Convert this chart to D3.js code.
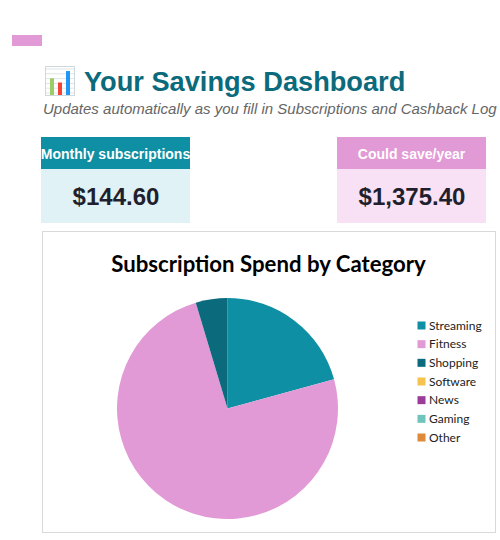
<!DOCTYPE html>
<html><head><meta charset="utf-8">
<script src="https://cdn.jsdelivr.net/npm/d3@7"></script>
<style>html,body{margin:0;padding:0;background:#fff;overflow:hidden}svg{display:block}</style>
</head><body><div id="c"></div>
<script>
const categories=["Streaming","Fitness","Shopping","Software","News","Gaming","Other"];
const spend=[30.0,107.9,6.7,0,0,0,0];
const colors=["#0E8FA3","#E29AD6","#0B6A7B","#F4C44F","#9B3C9B","#6FC5BB","#DE8A3A"];
const iconBars=[8,6,11.5];
const iconBarColors=["#9CCC65","#F44336","#2196F3"];
const iconRules=[0,1,2,3,4,5];
const svg=d3.select("#c").append("svg").attr("width",500).attr("height",540);
const sans="'Liberation Sans',Arial,sans-serif", lato="Lato,sans-serif";
function T(x,y,s,size,fill,o={}){return svg.append("text").attr("x",x).attr("y",y).text(s)
 .attr("font-family",o.f||sans).attr("font-size",size).attr("fill",fill)
 .attr("font-weight",o.w||"normal").attr("font-style",o.i||"normal").attr("text-anchor",o.a||"start");}
svg.append("rect").attr("x",12).attr("y",35).attr("width",30).attr("height",11).attr("fill","#E29AD6");
// icon
const ic=svg.append("g").attr("transform","translate(45,66)");
ic.append("rect").attr("x",0.5).attr("y",0.5).attr("width",29).attr("height",29).attr("fill","#fff").attr("stroke","#CFD8DC");
ic.selectAll("line").data(iconRules).join("line").attr("x1",1).attr("x2",29)
 .attr("y1",d=>3+d*4.8).attr("y2",d=>3+d*4.8).attr("stroke","#DDE4E7");
const iy=d3.scaleLinear().domain([0,12]).range([29,4]);
ic.selectAll("rect.b").data(iconBars).join("rect").attr("class","b")
 .attr("x",(d,i)=>[5,13,21][i]).attr("width",4).attr("y",d=>iy(d)).attr("height",d=>29-iy(d))
 .attr("fill",(d,i)=>iconBarColors[i]);
T(84,91,"Your Savings Dashboard",27.2,"#0B6A7B",{w:"bold"});
T(43,114,"Updates automatically as you fill in Subscriptions and Cashback Log",15,"#666666",{i:"italic"});
// cards
function card(x,w,head,val,c1,c2){
 svg.append("rect").attr("x",x).attr("y",137).attr("width",w).attr("height",32).attr("fill",c1);
 svg.append("rect").attr("x",x).attr("y",169).attr("width",w).attr("height",54).attr("fill",c2);
 T(x+w/2,159,head,14,"#fff",{w:"bold",a:"middle"});
 T(x+w/2+0.5,205,val,24,"#1F1F2E",{w:"bold",a:"middle"});
}
card(41,149,"Monthly subscriptions","$144.60","#0E8FA3","#E0F2F5");
card(337,149,"Could save/year","$1,375.40","#E29AD6","#F8E1F4");
// chart frame
svg.append("rect").attr("x",42.5).attr("y",231.5).attr("width",453).attr("height",301).attr("fill","#fff").attr("stroke","#D9D9D9");
T(268.5,272,"Subscription Spend by Category",22.2,"#000",{f:lato,w:"bold",a:"middle"});
const pie=d3.pie().sort(null)(spend);
const arc=d3.arc().innerRadius(0).outerRadius(110.5);
svg.append("g").attr("transform","translate(227.5,408.5)").selectAll("path").data(pie).join("path")
 .attr("d",arc).attr("fill",(d,i)=>colors[i]);
const ly=d3.scalePoint().domain(categories).range([325.5,437.5]);
const lg=svg.append("g");
lg.selectAll("rect").data(categories).join("rect").attr("x",417.5).attr("y",d=>ly(d)-4).attr("width",8).attr("height",8)
 .attr("fill",(d,i)=>colors[i]);
lg.selectAll("text").data(categories).join("text").attr("x",429).attr("y",d=>ly(d)+4).text(d=>d)
 .attr("font-family",lato).attr("font-size",12).attr("fill","#222");
</script></body></html>
